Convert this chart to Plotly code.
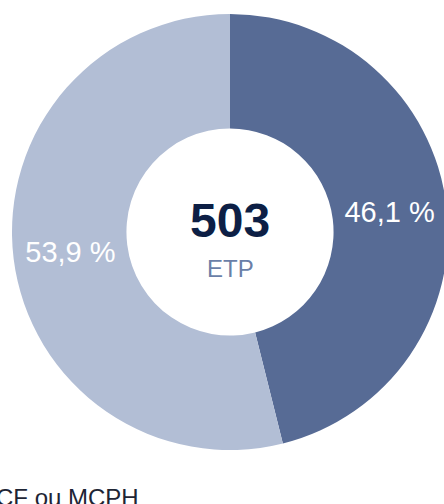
import plotly.graph_objects as go

labels = ["CF ou MCPH", "Autres"]
values = [46.1, 53.9]
text_labels = ["46,1 %", "53,9 %"]
colors = ["#576b95", "#b2bed5"]
total_value = "503"
total_unit = "ETP"
legend_label = "CF ou MCPH"

W, H = 460, 504
cx, cy, R = 230, 232, 218
FONT = "Liberation Sans, Arial, Helvetica, sans-serif"

fig = go.Figure(go.Pie(
    labels=labels,
    values=values,
    text=text_labels,
    textinfo="text",
    textposition="inside",
    insidetextorientation="horizontal",
    textfont=dict(family=FONT, size=29, color="white"),
    marker=dict(colors=colors, line=dict(width=0)),
    hole=0.475,
    sort=False,
    direction="clockwise",
    rotation=0,
    showlegend=False,
    hoverinfo="skip",
    domain=dict(x=[(cx - R) / W, (cx + R) / W],
                y=[(H - (cy + R)) / H, (H - (cy - R)) / H]),
))

fig.add_annotation(text=f"<b>{total_value}</b>", x=cx / W, y=1 - 220 / H, xref="paper", yref="paper",
                   showarrow=False, font=dict(family=FONT, size=48, color="#0d1f45"))
fig.add_annotation(text=total_unit, x=cx / W, y=1 - 268 / H, xref="paper", yref="paper",
                   showarrow=False, font=dict(family=FONT, size=24, color="#6a7fa8"))
fig.add_annotation(text=legend_label, x=-6 / W, y=1 - 497 / H, xref="paper", yref="paper",
                   xanchor="left", yanchor="middle", showarrow=False,
                   font=dict(family=FONT, size=24, color="#1e2535"))

fig.update_layout(width=W, height=H, margin=dict(l=0, r=0, t=0, b=0),
                  paper_bgcolor="white", plot_bgcolor="white")
fig.write_html("out.html", config={"displayModeBar": False},
               post_script="document.body.style.margin='0';document.body.style.overflow='hidden';"
                           "document.documentElement.style.overflow='hidden';")
